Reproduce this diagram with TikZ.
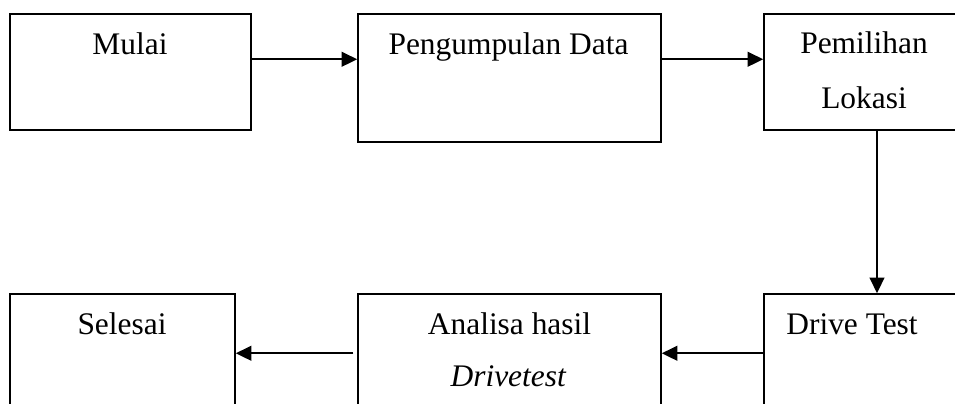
\documentclass[tikz,border=0pt]{standalone}
\usepackage{fontspec}
\setmainfont{Liberation Serif}
\usetikzlibrary{arrows.meta}
\newcommand{\pxu}{0.382pt}
\tikzset{
	box/.style 2 args={draw, line width=0.55pt, minimum width=#1*\pxu, minimum height=#2*\pxu, inner sep=0pt},
	lbl/.style={anchor=base, font=\fontsize{12}{14}\selectfont, inner sep=0pt},
	arr/.style={-{Triangle[length=6pt,width=5.6pt]}, line width=0.85pt}
}
\begin{document}
\begin{tikzpicture}[x=0.382pt,y=-0.382pt]
	\useasboundingbox (0,0) rectangle (955,404);
	\clip (0,0) rectangle (955,404);%boxes run off the page

	\node[box={241}{116}] (mulai) at (130.5,72) {};
	\node[box={303}{128}] (data) at (509.5,78) {};
	\node[box={226}{116}] (lokasi) at (877,72) {};
	\node[box={225}{126}] (selesai) at (122.5,357) {};
	\node[box={303}{126}] (analisa) at (509.5,357) {};
	\node[box={226}{126}] (drive) at (877,357) {};

	\node[lbl] (tmulai) at (130,55) {Mulai};
	\node[lbl] (tdata) at (508.5,55) {Pengumpulan Data};
	\node[lbl] (tpilih) at (864,54) {Pemilihan};
	\node[lbl] (tlokasi) at (864,109) {Lokasi};
	\node[lbl] (tselesai) at (122,335) {Selesai};
	\node[lbl] (tanalisa) at (509.5,335) {Analisa hasil};
	\node[lbl] (tdrivetest) at (508.5,387) {\textit{Drivetest}};
	\node[lbl] (tdrive) at (852,335) {Drive Test};

	\draw[arr] ([yshift=-46*\pxu]mulai.north east) -- ([yshift=-46*\pxu]data.north west);
	\draw[arr] ([yshift=-46*\pxu]data.north east) -- ([yshift=-46*\pxu]lokasi.north west);
	\draw[arr] (lokasi) -- (drive);
	\draw[arr] ([yshift=-60*\pxu]drive.north west) -- ([yshift=-60*\pxu]analisa.north east);
	\draw[arr] ([yshift=-60*\pxu,xshift=-4*\pxu]analisa.north west) -- ([yshift=-60*\pxu]selesai.north east);
\end{tikzpicture}
\end{document}
